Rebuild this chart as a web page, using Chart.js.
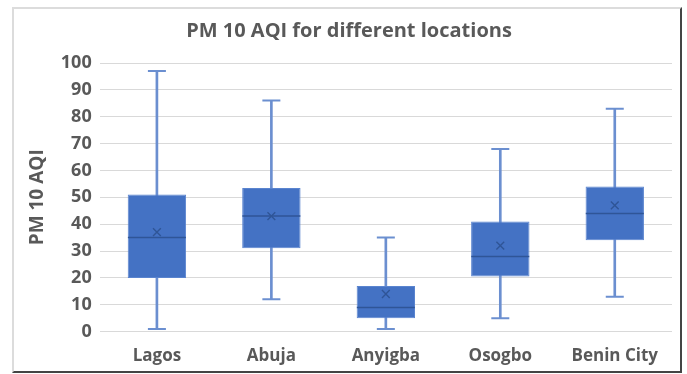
<!DOCTYPE html>
<html>
<head>
<meta charset="utf-8">
<script src="https://cdn.jsdelivr.net/npm/chart.js@4"></script>
<style>
  html, body { margin: 0; padding: 0; background: #fff; }
  #wrap { position: relative; width: 687px; height: 374px; }
  #frame {
    position: absolute; left: 12px; top: 7px; width: 666px; height: 362px;
    border-left: 2px solid #dcdcdc; border-top: 2px solid #dcdcdc;
    border-right: 2px solid #444; border-bottom: 2px solid #444;
    pointer-events: none;
  }
</style>
</head>
<body>
<div id="wrap">
  <canvas id="chart" width="687" height="374"></canvas>
  <div id="frame"></div>
</div>
<script>
let locations = ["Lagos", "Abuja", "Anyigba", "Osogbo", "Benin City"];
let minValues = [1, 12, 1, 5, 13];
let q1Values = [20, 31, 5, 20.5, 34];
let medianValues = [35, 43, 9, 28, 44];
let q3Values = [51, 53.5, 17, 41, 54];
let maxValues = [97, 86, 35, 68, 83];
let meanValues = [37, 43, 14, 32, 47];

let boxBlue = '#4472C4';
let whiskerBlue = '#6b8fd0';
let darkBlue = '#2F5597';
let textGray = '#595959';
let fontName = '"Open Sans", sans-serif';

let data = {
  labels: locations,
  datasets: [
    {
      // whisker from min to max, behind the box
      type: 'bar',
      data: locations.map((l, i) => [minValues[i], maxValues[i]]),
      backgroundColor: whiskerBlue,
      barThickness: 2,
      grouped: false,
      order: 6
    },
    {
      type: 'bar',
      data: locations.map((l, i) => [q1Values[i], q3Values[i]]),
      backgroundColor: boxBlue,
      borderColor: '#5a84cf',
      borderWidth: 1,
      borderSkipped: false,
      barPercentage: 0.51,
      categoryPercentage: 1,
      grouped: false,
      order: 5
    },
    {
      type: 'line',
      data: medianValues,
      showLine: false,
      pointStyle: 'line',
      pointRadius: 29,
      pointBorderWidth: 1.5,
      pointBorderColor: darkBlue,
      order: 4
    },
    {
      type: 'line',
      data: minValues,
      showLine: false,
      pointStyle: 'line',
      pointRadius: 9,
      pointBorderWidth: 2,
      pointBorderColor: whiskerBlue,
      order: 3
    },
    {
      type: 'line',
      data: maxValues,
      showLine: false,
      pointStyle: 'line',
      pointRadius: 9,
      pointBorderWidth: 2,
      pointBorderColor: whiskerBlue,
      order: 2
    },
    {
      type: 'line',
      data: meanValues,
      showLine: false,
      pointStyle: 'crossRot',
      pointRadius: 5.5,
      pointBorderWidth: 1.4,
      pointBorderColor: darkBlue,
      order: 1
    }
  ]
};

let config = {
  type: 'bar',
  data: data,
  options: {
    responsive: false,
    animation: false,
    layout: {
      // the wide median markers would otherwise push the plot in from the right
      autoPadding: false,
      padding: { left: 26, right: 15, top: 19, bottom: 2 }
    },
    plugins: {
      legend: { display: false },
      tooltip: { enabled: false },
      title: {
        display: true,
        text: 'PM 10 AQI for different locations',
        color: textGray,
        font: { family: fontName, size: 20, weight: 'bold' },
        padding: { top: 0, bottom: 20 }
      }
    },
    scales: {
      x: {
        grid: { display: false },
        border: { display: false },
        ticks: {
          color: textGray,
          font: { family: fontName, size: 17, weight: 'bold' },
          padding: 6
        }
      },
      y: {
        min: 0,
        max: 100,
        border: { display: false },
        grid: { color: '#d9d9d9', lineWidth: 1, drawTicks: false },
        ticks: {
          stepSize: 10,
          color: textGray,
          font: { family: fontName, size: 18, weight: 'bold' },
          padding: 8
        },
        title: {
          display: true,
          text: 'PM 10 AQI',
          color: textGray,
          font: { family: fontName, size: 19, weight: 'bold' },
          padding: { top: 0, bottom: 4 }
        }
      }
    }
  }
};

let ctx = document.getElementById('chart').getContext('2d');
let myChart = new Chart(ctx, config);
</script>
</body>
</html>
